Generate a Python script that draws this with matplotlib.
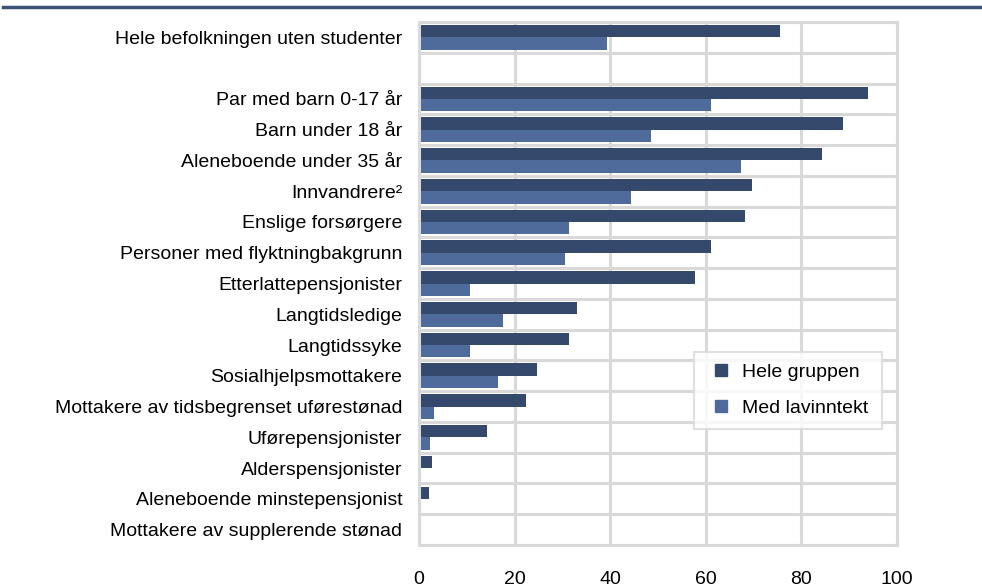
import matplotlib.pyplot as plt
import numpy as np
from matplotlib.lines import Line2D

categories = [
    "Hele befolkningen uten studenter",
    "",
    "Par med barn 0-17 år",
    "Barn under 18 år",
    "Aleneboende under 35 år",
    "Innvandrere²",
    "Enslige forsørgere",
    "Personer med flyktningbakgrunn",
    "Etterlattepensjonister",
    "Langtidsledige",
    "Langtidssyke",
    "Sosialhjelpsmottakere",
    "Mottakere av tidsbegrenset uførestønad",
    "Uførepensjonister",
    "Alderspensjonister",
    "Aleneboende minstepensjonist",
    "Mottakere av supplerende stønad",
]
hele_gruppen = [75.5, 0, 94.0, 88.8, 84.4, 69.6, 68.1, 61.1, 57.8, 33.1,
                31.3, 24.6, 22.4, 14.2, 2.8, 2.1, 0]
med_lavinntekt = [39.3, 0, 61.1, 48.6, 67.4, 44.4, 31.3, 30.5, 10.6, 17.6,
                  10.6, 16.5, 3.1, 2.4, 0, 0, 0]
xticks = [0, 20, 40, 60, 80, 100]

dark = '#34496b'
light = '#4e6b9b'
grid = '#d9d9d9'
fs = 14

plt.rcParams['font.family'] = ['Liberation Sans', 'DejaVu Sans']

fig = plt.figure(figsize=(9.82, 5.88), dpi=100)
ax = fig.add_axes([419 / 982, 1 - 545 / 588, 478 / 982, 523 / 588])

n = len(categories)
y = np.arange(n)
h = 0.4
ax.barh(y - h / 2, hele_gruppen, height=h, color=dark, label='Hele gruppen')
ax.barh(y + h / 2, med_lavinntekt, height=h, color=light,
        label='Med lavinntekt')

ax.set_ylim(n - 0.5, -0.5)
ax.set_xlim(0, 100)
ax.set_xticks(xticks)
ax.set_yticks(y)
ax.set_yticklabels(categories)
ax.tick_params(axis='both', length=0, labelsize=fs)
ax.tick_params(axis='y', pad=12)
ax.tick_params(axis='x', pad=19)

# Excel-like grid between category rows
for b in np.arange(-0.5, n, 1.0):
    ax.axhline(b, color=grid, lw=2.2, zorder=0)
for xv in xticks:
    ax.axvline(xv, color=grid, lw=2.2, zorder=0)
for s in ax.spines.values():
    s.set_color(grid)
    s.set_linewidth(2.2)

handles = [Line2D([], [], marker='s', ls='', color=dark, markersize=8),
           Line2D([], [], marker='s', ls='', color=light, markersize=8)]
leg = ax.legend(handles, ['Hele gruppen', 'Med lavinntekt'],
                loc='lower left', bbox_to_anchor=(0.575, 0.222, 0.394, 0.143),
                mode='expand', borderaxespad=0, fontsize=fs, frameon=True,
                fancybox=False, handletextpad=0.3, labelspacing=0.95,
                borderpad=0.6, handlelength=1.6)
leg.get_frame().set_edgecolor(grid)
leg.get_frame().set_linewidth(1.5)

fig.add_artist(Line2D([3 / 982, 980 / 982], [1 - 7 / 588, 1 - 7 / 588],
                      color='#3b5177', lw=2.5))

fig.savefig('out.png', dpi=100)
